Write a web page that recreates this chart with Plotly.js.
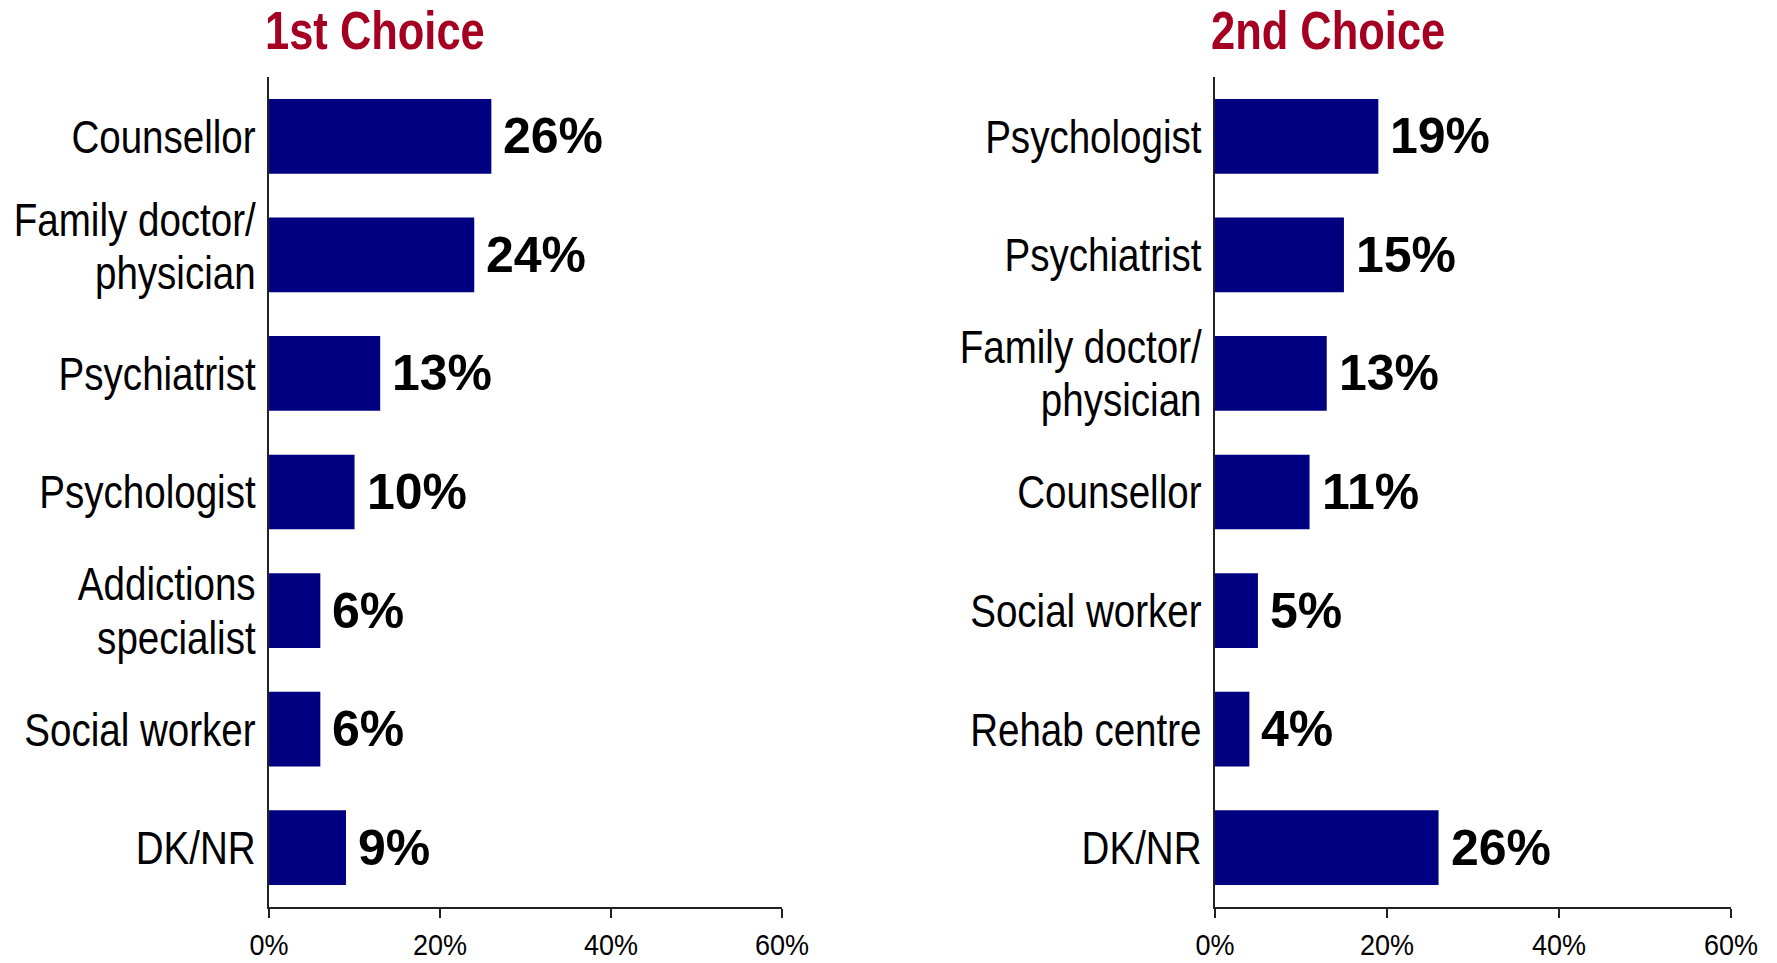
<!DOCTYPE html>
<html>
<head>
<meta charset="utf-8">
<script src="https://cdn.plot.ly/plotly-3.0.1.min.js"></script>
<style>
html,body{margin:0;padding:0;background:#fff;}
#chart{width:1777px;height:963px;}
</style>
</head>
<body>
<div id="chart"></div>
<script>
// ---- data ----
const firstCategories = ["Counsellor", "Family doctor/<br>physician", "Psychiatrist", "Psychologist", "Addictions<br>specialist", "Social worker", "DK/NR"];
const firstValues = [26, 24, 13, 10, 6, 6, 9];
const secondCategories = ["Psychologist", "Psychiatrist", "Family doctor/<br>physician", "Counsellor", "Social worker", "Rehab centre", "DK/NR"];
const secondValues = [19, 15, 13, 11, 5, 4, 26];
const panelTitles = ["1st Choice", "2nd Choice"];
const xTickVals = [0, 20, 40, 60];
const xTickText = ["0%", "20%", "40%", "60%"];

const SANS = "'Liberation Sans', Arial, sans-serif";
const BAR = "#000080";
const AXC = "#222222";

function barTrace(cats, vals, xa, ya) {
  return {
    type: "bar", orientation: "h",
    y: cats, x: vals,
    xaxis: xa, yaxis: ya,
    marker: {color: BAR, line: {width: 0}},
    hoverinfo: "skip"
  };
}

const data = [
  barTrace(firstCategories, firstValues, "x", "y"),
  barTrace(secondCategories, secondValues, "x2", "y2")
];

function xAxis(domain, anchor) {
  return {
    domain: domain, anchor: anchor, range: [0, 60],
    tickvals: xTickVals, ticktext: xTickText,
    showgrid: false, zeroline: false,
    showline: true, linecolor: AXC, linewidth: 2,
    ticks: "outside", ticklen: 9, tickwidth: 2, tickcolor: AXC,
    tickfont: {family: SANS, size: 30, color: "#000"},
    ticklabelstandoff: 1,
    fixedrange: true
  };
}
function yAxis(anchor) {
  return {
    domain: [0.0582, 0.920], anchor: anchor,
    type: "category", autorange: "reversed",
    showgrid: false, zeroline: false,
    showline: true, linecolor: AXC, linewidth: 2,
    ticks: "", ticklen: 0,
    tickfont: {family: SANS, size: 47, color: "#000"},
    ticklabelstandoff: 2,
    fixedrange: true
  };
}

const annotations = [];
function addValueLabels(cats, vals, xr, yr) {
  cats.forEach((c, i) => {
    annotations.push({
      xref: xr, yref: yr, x: vals[i], y: c,
      text: vals[i] + "%", showarrow: false,
      xanchor: "left", yanchor: "middle", xshift: 10,
      font: {family: SANS, size: 50, color: "#000", weight: "bold"}
    });
  });
}
addValueLabels(firstCategories, firstValues, "x", "y");
addValueLabels(secondCategories, secondValues, "x2", "y2");

["x domain", "x2 domain"].forEach((xr, i) => {
  annotations.push({
    xref: xr, yref: "paper", x: 0, y: 1 - 30 / 963,
    xanchor: "left", yanchor: "middle", xshift: -6,
    text: panelTitles[i], showarrow: false,
    font: {family: SANS, size: 53, color: "#A50021", weight: "bold"}
  });
});

const layout = {
  width: 1777, height: 963,
  margin: {l: 0, r: 0, t: 0, b: 0},
  paper_bgcolor: "#fff", plot_bgcolor: "#fff",
  showlegend: false,
  bargap: 0.37,
  xaxis: xAxis([0.1514, 0.4401], "y"),
  yaxis: yAxis("x"),
  xaxis2: xAxis([0.6837, 0.9741], "y2"),
  yaxis2: yAxis("x2"),
  annotations: annotations
};

// Condense text horizontally (to mimic a narrow typeface) while keeping an edge fixed
function condense(el, factor, keep) {
  let targets = Array.from(el.querySelectorAll("tspan.line"));
  if (!targets.length) targets = [el];
  targets.forEach(t => {
    const b0 = t.getBoundingClientRect();
    const len = t.getComputedTextLength();
    t.setAttribute("textLength", (len * factor).toFixed(2));
    t.setAttribute("lengthAdjust", "spacingAndGlyphs");
    const b1 = t.getBoundingClientRect();
    let dx = 0;
    if (keep === "right") dx = b0.right - b1.right;
    else if (keep === "left") dx = b0.left - b1.left;
    else dx = (b0.left + b0.right) / 2 - (b1.left + b1.right) / 2;
    const x0 = parseFloat(t.getAttribute("x")) || 0;
    t.setAttribute("x", (x0 + dx).toFixed(2));
  });
}
// Plotly uses 1.3em line spacing (dy measured from a shared y); tighten it, keeping the block centred
function tightenLines(el, em, lift) {
  const lines = el.querySelectorAll("tspan.line");
  if (lines.length === 2) {
    const shift = (1.3 - em) / 2;
    lines[0].setAttribute("dy", shift.toFixed(3) + "em");
    lines[1].setAttribute("dy", (shift + em).toFixed(3) + "em");
    if (lift) {
      lines.forEach(l => {
        const y0 = parseFloat(l.getAttribute("y")) || 0;
        l.setAttribute("y", (y0 - lift).toFixed(2));
      });
    }
  }
}

Plotly.newPlot("chart", data, layout, {displayModeBar: false, staticPlot: true}).then(gd => {
  gd.querySelectorAll(".yaxislayer-above .ytick text").forEach(t => {
    // in the reference the left "Family doctor/physician" label sits slightly above its bar
    tightenLines(t, 1.13, t.textContent.indexOf("Family") === 0 ? 9 : 0);
    condense(t, 0.82, "right");
  });
  gd.querySelectorAll(".yaxislayer-above .y2tick text").forEach(t => {
    tightenLines(t, 1.13, 0);
    condense(t, 0.82, "right");
  });
  gd.querySelectorAll(".xaxislayer-above .xtick text, .xaxislayer-above .x2tick text").forEach(t => {
    condense(t, 0.9, "center");
  });
  gd.querySelectorAll(".annotation-text").forEach(t => {
    if (panelTitles.includes(t.textContent)) condense(t, 0.82, "left");
  });
});
</script>
</body>
</html>
